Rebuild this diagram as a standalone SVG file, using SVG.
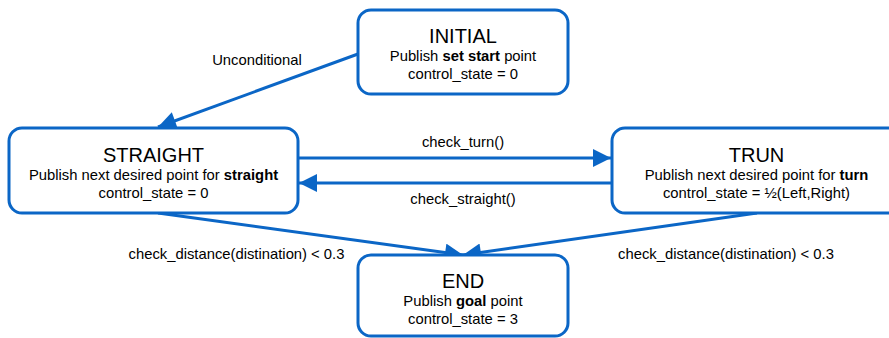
<svg xmlns="http://www.w3.org/2000/svg" width="889" height="338" viewBox="0 0 889 338">
<defs>
<style>
.box{fill:#fff;stroke:#0B66C6;stroke-width:3}
.edge{fill:none;stroke:#0B66C6;stroke-width:3}
text{font-family:"Liberation Sans",Arial,sans-serif;fill:#000;text-anchor:middle}
.t{font-size:20px}
.b{font-size:14.8px}
.l{font-size:14.8px}
.bold{font-weight:bold}
</style>
<marker id="ah" viewBox="0 0 10 10" refX="10" refY="5" markerWidth="7" markerHeight="6" orient="auto" markerUnits="strokeWidth">
<path d="M0,0 L10,5 L0,10 Z" fill="#0B66C6"/>
</marker>
</defs>
<rect width="889" height="338" fill="#fff"/>
<g id="connectors">
<line class="edge" x1="358" y1="54" x2="158" y2="127" marker-end="url(#ah)"/>
<line class="edge" x1="298" y1="158" x2="611" y2="158" marker-end="url(#ah)"/>
<line class="edge" x1="612" y1="183" x2="299" y2="183" marker-end="url(#ah)"/>
<line class="edge" x1="158" y1="213" x2="463" y2="255" marker-end="url(#ah)"/>
<line class="edge" x1="757" y1="213" x2="463" y2="255" marker-end="url(#ah)"/>
<text class="l" x="257" y="65">Unconditional</text>
<text class="l" x="463" y="147">check_turn()</text>
<text class="l" x="463" y="204">check_straight()</text>
<text class="l" x="236.5" y="259">check_distance(distination) &lt; 0.3</text>
<text class="l" x="726" y="259">check_distance(distination) &lt; 0.3</text>
</g>
<g id="initial">
<rect class="box" x="358" y="10" width="210" height="84" rx="13"/>
<text class="t" x="463" y="43">INITIAL</text>
<text class="b" x="463" y="61">Publish <tspan class="bold">set start</tspan> point</text>
<text class="b" x="463" y="79">control_state = 0</text>
</g>
<g id="straight">
<rect class="box" x="9" y="128" width="289" height="85" rx="13"/>
<text class="t" x="153.5" y="162">STRAIGHT</text>
<text class="b" x="153.5" y="180">Publish next desired point for <tspan class="bold">straight</tspan></text>
<text class="b" x="153.5" y="198">control_state = 0</text>
</g>
<g id="trun">
<rect class="box" x="612" y="128" width="289" height="85" rx="13"/>
<text class="t" x="756.5" y="162">TRUN</text>
<text class="b" x="756.5" y="180">Publish next desired point for <tspan class="bold">turn</tspan></text>
<text class="b" x="756.5" y="198">control_state = ½(Left,Right)</text>
</g>
<g id="end">
<rect class="box" x="358" y="255" width="210" height="81" rx="13"/>
<text class="t" x="463" y="288">END</text>
<text class="b" x="463" y="306">Publish <tspan class="bold">goal</tspan> point</text>
<text class="b" x="463" y="324">control_state = 3</text>
</g>
</svg>
